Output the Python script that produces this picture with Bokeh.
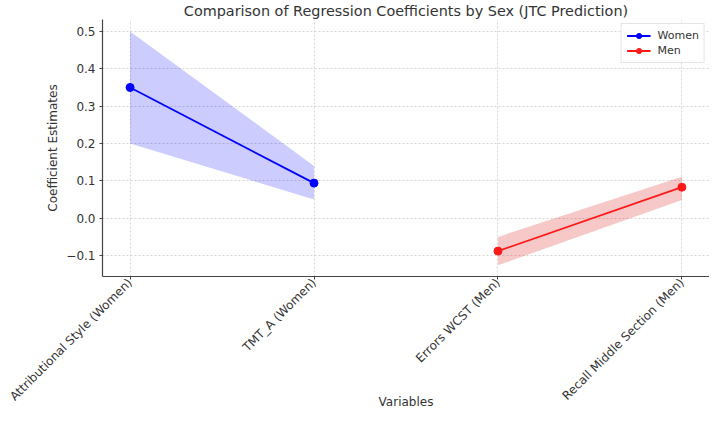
from math import pi
from bokeh.plotting import figure
from bokeh.models import ColumnDataSource, Range1d, FixedTicker, Legend, LegendItem
from bokeh.embed import file_html
from bokeh.resources import INLINE

categories = ["Attributional Style (Women)", "TMT_A (Women)", "Errors WCST (Men)", "Recall Middle Section (Men)"]
women_idx = [0, 1]
women_coef = [0.35, 0.094]
women_lower = [0.20, 0.050]
women_upper = [0.50, 0.140]
men_idx = [2, 3]
men_coef = [-0.088, 0.083]
men_lower = [-0.126, 0.049]
men_upper = [-0.050, 0.111]
y_ticks = [-0.1, 0.0, 0.1, 0.2, 0.3, 0.4, 0.5]

FONT = "DejaVu Sans"
TXT = "#333333"

p = figure(width=709, height=412, output_backend="svg", toolbar_location=None,
           x_range=Range1d(-0.15, 3.15), y_range=Range1d(-0.156, 0.532),
           min_border_left=102, min_border_right=0, min_border_top=0, min_border_bottom=0)

p.title.text = "Comparison of Regression Coefficients by Sex (JTC Prediction)"
p.title.align = "center"
p.title.text_font = FONT
p.title.text_font_size = "14.4px"
p.title.text_font_style = "normal"
p.title.text_color = TXT
p.title.standoff = 1
p.title.offset = 0

w = ColumnDataSource(dict(x=women_idx, y=women_coef, lo=women_lower, hi=women_upper))
m = ColumnDataSource(dict(x=men_idx, y=men_coef, lo=men_lower, hi=men_upper))

p.varea(x="x", y1="lo", y2="hi", source=w, fill_color="#0000ff", fill_alpha=0.2)
p.varea(x="x", y1="lo", y2="hi", source=m, fill_color="#dd2222", fill_alpha=0.25)
wl = p.line("x", "y", source=w, line_color="#0000ff", line_width=1.8)
wc = p.scatter("x", "y", source=w, size=8, fill_color="#0000ff", line_color="#0000ff")
ml = p.line("x", "y", source=m, line_color="#ff1a1a", line_width=1.8)
mc = p.scatter("x", "y", source=m, size=8, fill_color="#ff1a1a", line_color="#ff1a1a")

legend = Legend(items=[LegendItem(label="Women", renderers=[wl, wc]),
                       LegendItem(label="Men", renderers=[ml, mc])],
                location="top_right", label_text_font=FONT, label_text_font_size="11px",
                label_text_color=TXT, border_line_color="#cccccc", border_line_width=1,
                background_fill_alpha=0.9, glyph_width=24, glyph_height=13,
                label_height=13, spacing=2, padding=5, margin=4, label_standoff=7)
p.add_layout(legend)

p.xaxis.ticker = FixedTicker(ticks=list(range(len(categories))))
p.xaxis.major_label_overrides = {i: c for i, c in enumerate(categories)}
p.xaxis.major_label_orientation = pi / 4
p.yaxis.ticker = FixedTicker(ticks=y_ticks)
p.yaxis.major_label_overrides = {t: ("\u22120.1" if t < 0 else f"{t:.1f}") for t in y_ticks}

p.xaxis.axis_label = "Variables"
p.yaxis.axis_label = "Coefficient Estimates"
for ax in (p.xaxis, p.yaxis):
    ax.axis_label_text_font = FONT
    ax.axis_label_text_font_size = "12px"
    ax.axis_label_text_font_style = "normal"
    ax.axis_label_text_color = TXT
    ax.major_label_text_font = FONT
    ax.major_label_text_font_size = "12px"
    ax.major_label_text_color = TXT
    ax.axis_line_color = "#444444"
    ax.axis_line_width = 1.2
    ax.major_tick_line_color = "#444444"
    ax.major_tick_out = 3
    ax.major_tick_in = 0
    ax.minor_tick_line_color = None
p.xaxis.major_label_standoff = 1
p.xaxis.axis_label_standoff = -16
p.yaxis.major_label_standoff = 4
p.yaxis.axis_label_standoff = 3

p.grid.grid_line_color = "#cccccc"
p.grid.grid_line_dash = "2 2"
p.grid.grid_line_width = 0.8
p.outline_line_color = None

open("out.html", "w").write(file_html(p, INLINE))
